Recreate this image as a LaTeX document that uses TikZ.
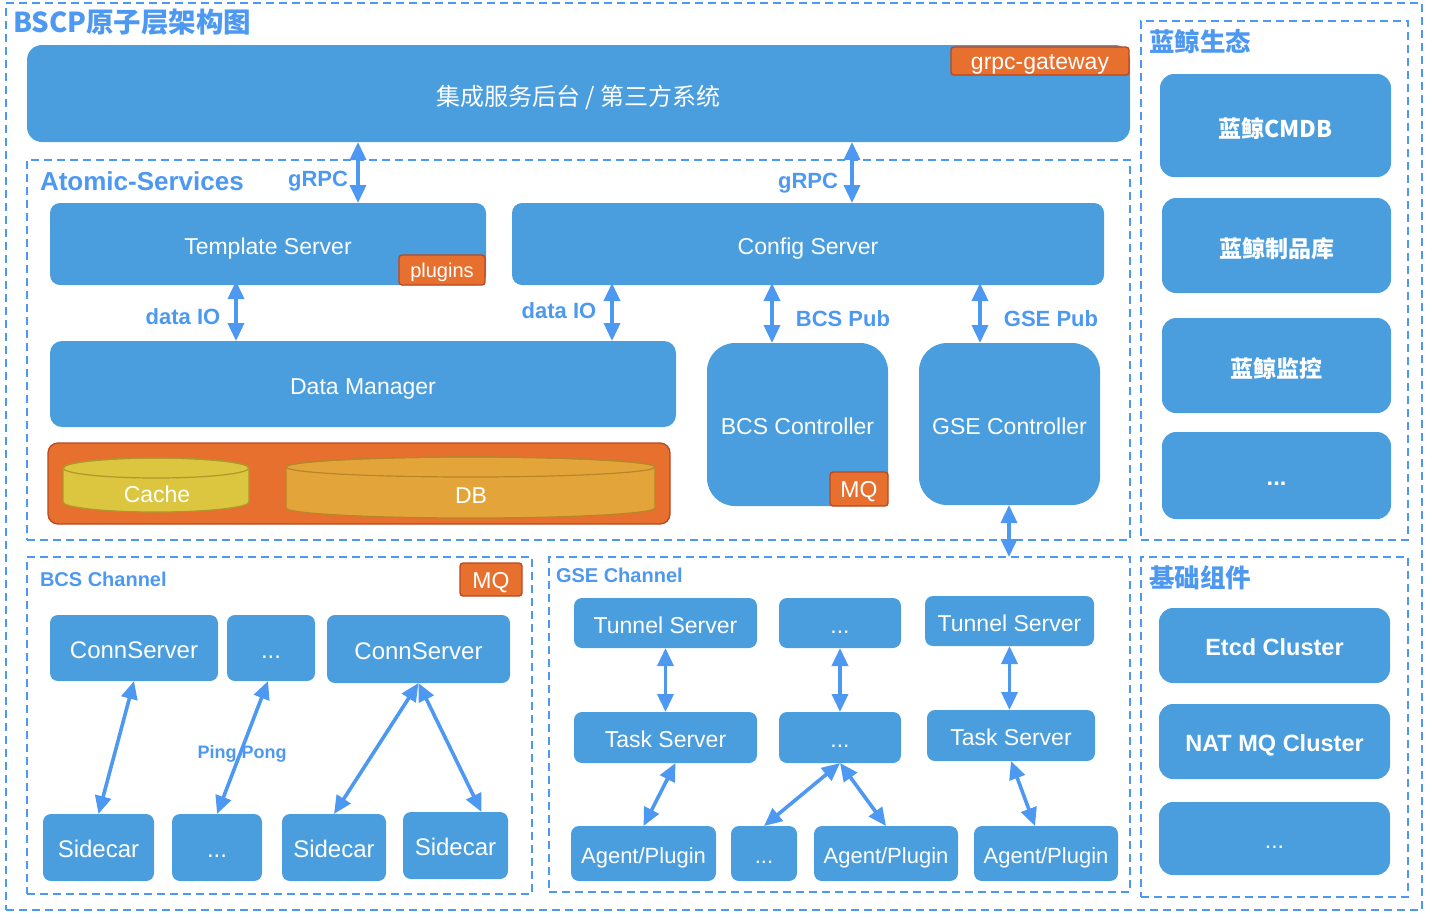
\documentclass[tikz,border=0pt]{standalone}
\usepackage{fontspec}
\setmainfont{Liberation Sans}
\newfontfamily\cjk{Noto Sans CJK SC}
\usetikzlibrary{arrows.meta,calc}
\definecolor{boxblue}{RGB}{74,158,222}
\definecolor{lblue}{RGB}{77,152,240}
\definecolor{tagor}{RGB}{232,112,46}
\definecolor{tagbd}{RGB}{185,71,31}
\definecolor{cachey}{RGB}{220,198,63}
\definecolor{cacheb}{RGB}{176,150,44}
\definecolor{dbor}{RGB}{227,165,58}
\definecolor{dbbd}{RGB}{184,134,42}
\newcommand\mkbox[7]{\node[#6, minimum width={#4-#2}, minimum height={#5-#3}] (#1) at ({(#2+#4)/2},{(#3+#5)/2}) {#7};}
\begin{document}
\begin{tikzpicture}[x=1pt,y=-1pt,
  base/.style={inner sep=0pt, outer sep=0pt},
  box/.style={base, fill=boxblue, text=white, rounded corners=8pt, font=\fontsize{23}{26}\selectfont, align=center, text height=20pt, text depth=0pt},
  cjkt/.style={text height=26pt, text depth=3pt},
  bbox/.style={box, rounded corners=14pt, font=\fontsize{23.5}{26}\selectfont\bfseries},
  tag/.style={base, fill=tagor, draw=tagbd, line width=1.3pt, rounded corners=3pt, text=white, font=\fontsize{23}{26}\selectfont, text height=17pt, text depth=0pt},
  group/.style={base, draw=lblue, line width=1.8pt, dash pattern=on 8pt off 5pt},
  lbl/.style={base, text=lblue, font=\fontsize{22}{24}\selectfont\bfseries, text height=16pt, text depth=0pt},
  ttl/.style={base, text=lblue, anchor=west},
  arr/.style={draw=lblue, line width=3.6pt, {Triangle[length=18pt,width=16pt]}-{Triangle[length=18pt,width=16pt]}},
]
\useasboundingbox (0,0) rectangle (1432,922);

% dashed groups
\mkbox{outer}{6}{3}{1422}{910}{group}{}
\mkbox{atomic}{27}{160}{1130}{540}{group}{}
\mkbox{eco}{1141}{21}{1408}{540}{group}{}
\mkbox{bcsch}{27}{557}{532}{894}{group}{}
\mkbox{gsech}{549}{557}{1130}{892}{group}{}
\mkbox{basec}{1141}{557}{1408}{897}{group}{}

% titles
\node[ttl, font=\cjk\fontsize{27.5}{30}\selectfont\bfseries] (title) at (13,22) {BSCP原子层架构图};
\node[ttl, font=\fontsize{26}{28}\selectfont\bfseries] (atl) at (40,181) {Atomic-Services};
\node[ttl, font=\cjk\fontsize{25.5}{28}\selectfont\bfseries] (ecot) at (1149,42) {蓝鲸生态};
\node[ttl, font=\cjk\fontsize{25.5}{28}\selectfont\bfseries] (baset) at (1149,578) {基础组件};
\node[ttl, font=\fontsize{20}{22}\selectfont\bfseries] (bcst) at (40,579) {BCS Channel};
\node[ttl, font=\fontsize{20}{22}\selectfont\bfseries] (gset) at (556,575) {GSE Channel};

% top bar
\mkbox{top}{27}{45}{1130}{142}{box, cjkt, rounded corners=15pt, font=\cjk\fontsize{24}{28}\selectfont}{集成服务后台 / 第三方系统}
\mkbox{gw}{951}{47}{1129}{75}{tag}{grpc-gateway}

% atomic services
\mkbox{tmpl}{50}{203}{486}{285}{box, rounded corners=10pt}{Template Server}
\mkbox{plug}{399}{255}{485}{285}{tag, font=\fontsize{20}{22}\selectfont, text height=15pt}{plugins}
\mkbox{cfg}{512}{203}{1104}{285}{box, rounded corners=10pt}{Config Server}
\mkbox{dm}{50}{341}{676}{427}{box, rounded corners=12pt}{Data Manager}
\mkbox{store}{48}{443}{670}{524}{tag, rounded corners=10pt}{}
\mkbox{bcsc}{707}{343}{888}{506}{box, rounded corners=28pt}{BCS Controller}
\mkbox{bmq}{830}{472}{888}{506}{tag}{MQ}
\mkbox{gsec}{919}{343}{1100}{505}{box, rounded corners=28pt}{GSE Controller}

% cylinders
\filldraw[fill=cachey, draw=cacheb, line width=1.2pt] (63,468) -- (63,502) arc[start angle=180,end angle=360,x radius=93pt,y radius=10pt] -- (249,468) arc[start angle=0,end angle=180,x radius=93pt,y radius=10pt] -- cycle;
\draw[draw=cacheb, line width=1.2pt] (156,468) ellipse[x radius=93pt, y radius=10pt];
\node[base, text=white, font=\fontsize{23}{26}\selectfont, text height=17pt, text depth=0pt] (cache) at (157,494) {Cache};
\filldraw[fill=dbor, draw=dbbd, line width=1.2pt] (286,467) -- (286,508) arc[start angle=180,end angle=360,x radius=184.5pt,y radius=10pt] -- (655,467) arc[start angle=0,end angle=180,x radius=184.5pt,y radius=10pt] -- cycle;
\draw[draw=dbbd, line width=1.2pt] (470.5,467) ellipse[x radius=184.5pt, y radius=10pt];
\node[base, text=white, font=\fontsize{23}{26}\selectfont, text height=17pt, text depth=0pt] (db) at (471,495) {DB};

% labels
\node[lbl] (l1) at (318,178) {gRPC};
\node[lbl] (l2) at (808,180) {gRPC};
\node[lbl] (l3) at (183,316) {data IO};
\node[lbl] (l4) at (559,310) {data IO};
\node[lbl] (l5) at (843,318) {BCS Pub};
\node[lbl] (l6) at (1051,318) {GSE Pub};

% vertical arrows
\coordinate (xa) at (358,0);
\coordinate (xb) at (852,0);
\coordinate (xc) at (236,0);
\coordinate (xd) at (612,0);
\coordinate (xe) at (772,0);
\coordinate (xf) at (980,0);
\coordinate (xg) at (1009,0);
\draw[arr] (top.south -| xa) -- (tmpl.north -| xa);
\draw[arr] (top.south -| xb) -- (cfg.north -| xb);
\draw[arr] ([yshift=4pt]tmpl.south -| xc) -- (dm.north -| xc);
\draw[arr] ([yshift=2pt]cfg.south -| xd) -- (dm.north -| xd);
\draw[arr] ([yshift=2pt]cfg.south -| xe) -- (bcsc.north -| xe);
\draw[arr] ([yshift=2pt]cfg.south -| xf) -- (bcsc.north -| xf);
\draw[arr] (gsec.south -| xg) -- (gsech.north -| xg);

% eco
\mkbox{cmdb}{1160}{74}{1391}{177}{bbox, cjkt, font=\cjk\fontsize{23}{26}\selectfont\bfseries}{蓝鲸CMDB}
\mkbox{repo}{1162}{198}{1391}{293}{bbox, cjkt, font=\cjk\fontsize{23}{26}\selectfont\bfseries}{蓝鲸制品库}
\mkbox{mon}{1162}{318}{1391}{413}{bbox, cjkt, font=\cjk\fontsize{23}{26}\selectfont\bfseries}{蓝鲸监控}
\mkbox{eco4}{1162}{432}{1391}{519}{bbox}{...}
\mkbox{etcd}{1159}{608}{1390}{683}{bbox}{Etcd Cluster}
\mkbox{nat}{1159}{704}{1390}{779}{bbox}{NAT MQ Cluster}
\mkbox{base3}{1159}{802}{1390}{875}{bbox, font=\fontsize{23}{26}\selectfont}{...}

% BCS channel
\mkbox{cmq}{460}{563}{522}{596}{tag}{MQ}
\mkbox{cs1}{50}{615}{218}{681}{box, font=\fontsize{24}{26}\selectfont}{ConnServer}
\mkbox{cs2}{227}{615}{315}{681}{box, font=\fontsize{24}{26}\selectfont}{...}
\mkbox{cs3}{327}{615}{510}{683}{box, font=\fontsize{24}{26}\selectfont}{ConnServer}
\mkbox{sc1}{43}{814}{154}{881}{box, font=\fontsize{24}{26}\selectfont}{Sidecar}
\mkbox{sc2}{172}{814}{262}{881}{box, font=\fontsize{24}{26}\selectfont}{...}
\mkbox{sc3}{282}{814}{386}{881}{box, font=\fontsize{24}{26}\selectfont}{Sidecar}
\mkbox{sc4}{403}{812}{508}{879}{box, font=\fontsize{24}{26}\selectfont}{Sidecar}
\node[lbl, font=\fontsize{18}{20}\selectfont\bfseries, text height=13pt] (pp) at (242,752) {Ping Pong};
\draw[arr] (cs1.south) -- (sc1.north);
\draw[arr] ([xshift=-3pt]cs2.south) -- (sc2.north);
\draw[arr] (cs3.south) -- (sc3.north);
\draw[arr] (cs3.south) -- ([xshift=26pt]sc4.north);

% GSE channel
\mkbox{tu1}{574}{598}{757}{648}{box}{Tunnel Server}
\mkbox{tu2}{779}{598}{901}{648}{box}{...}
\mkbox{tu3}{925}{596}{1094}{646}{box}{Tunnel Server}
\mkbox{ta1}{574}{712}{757}{763}{box}{Task Server}
\mkbox{ta2}{779}{712}{901}{763}{box}{...}
\mkbox{ta3}{927}{710}{1095}{761}{box}{Task Server}
\mkbox{ap1}{571}{826}{716}{881}{box, font=\fontsize{22}{26}\selectfont}{Agent/Plugin}
\mkbox{ap2}{731}{826}{797}{881}{box, font=\fontsize{22}{26}\selectfont}{...}
\mkbox{ap3}{814}{826}{958}{881}{box, font=\fontsize{22}{26}\selectfont}{Agent/Plugin}
\mkbox{ap4}{974}{826}{1118}{881}{box, font=\fontsize{22}{26}\selectfont}{Agent/Plugin}
\draw[arr] (tu1.south) -- (ta1.north);
\draw[arr] (tu2.south) -- (ta2.north);
\draw[arr] (tu3.south) -- (tu3.south |- ta3.north);
\draw[arr] ([xshift=10pt]ta1.south) -- (ap1.north);
\draw[arr] (ta2.south) -- (ap2.north);
\draw[arr] (ta2.south) -- (ap3.north);
\draw[arr] (ta3.south) -- ([xshift=-11pt]ap4.north);
\end{tikzpicture}
\end{document}
